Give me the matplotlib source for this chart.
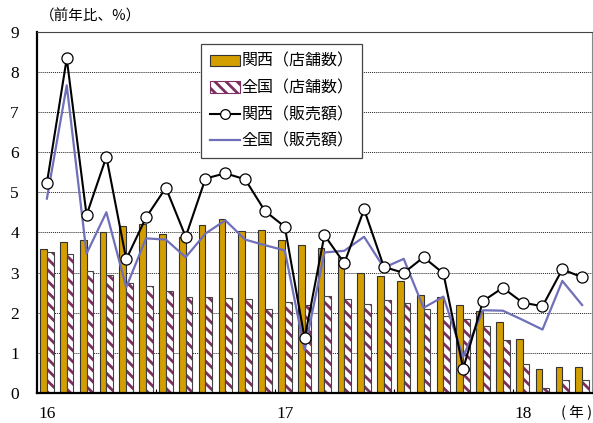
import matplotlib

matplotlib.use("Agg")
import matplotlib.pyplot as plt
import numpy as np
from matplotlib.lines import Line2D
from matplotlib.patches import Patch

plt.rcParams["font.family"] = ["Liberation Serif", "Noto Sans CJK JP"]
plt.rcParams["hatch.linewidth"] = 2.0

# monthly, 2016-01 .. 2018-04 (前年比, %)
kansai_store = [3.58, 3.76, 3.82, 4.01, 4.15, 4.20, 3.95, 3.89, 4.19, 4.32, 4.04, 4.07,
                3.81, 3.68, 3.62, 3.39, 3.00, 2.91, 2.79, 2.44, 2.38, 2.18, 2.05, 1.77,
                1.35, 0.60, 0.65, 0.65]
national_store = [3.50, 3.47, 3.04, 2.94, 2.75, 2.67, 2.55, 2.39, 2.39, 2.37, 2.35, 2.08,
                  2.26, 2.20, 2.41, 2.35, 2.22, 2.31, 2.25, 2.09, 1.92, 1.85, 1.68, 1.33,
                  0.71, 0.13, 0.33, 0.33]
kansai_sales = [5.23, 8.33, 4.43, 5.88, 3.33, 4.37, 5.11, 3.89, 5.34, 5.47, 5.32, 4.53,
                4.14, 1.36, 3.93, 3.23, 4.57, 3.14, 2.99, 3.38, 2.98, 0.61, 2.29, 2.62,
                2.25, 2.16, 3.08, 2.88]
national_sales = [4.84, 7.66, 3.47, 4.50, 2.63, 3.85, 3.82, 3.38, 3.97, 4.30, 3.82, 3.68,
                  3.55, 1.07, 3.50, 3.54, 3.89, 3.12, 3.34, 2.12, 2.40, 0.90, 2.06, 2.05,
                  1.82, 1.58, 2.79, 2.19]
year_ticks = [0, 12, 24]
year_labels = ["16", "17", "18"]

labels = ["関西（店舗数）", "全国（店舗数）", "関西（販売額）", "全国（販売額）"]

GOLD = "#D39E00"
PLUM = "#7B2F60"
BLUE = "#6F6FBA"
JP = ["Noto Sans CJK JP", "DejaVu Sans"]
HATCH = "\\\\\\"

x = np.arange(len(kansai_store))
w = 0.34

fig = plt.figure(figsize=(5.93, 4.23), dpi=100)
ax = fig.add_axes([0.0624, 0.0709, 0.936, 0.8546])

ax.bar(x - w / 2, kansai_store, width=w, color=GOLD, edgecolor="#333333",
       linewidth=0.8, zorder=2)
ax.bar(x + w / 2, national_store, width=w, color="white", edgecolor=PLUM,
       hatch=HATCH, linewidth=0, zorder=2)
ax.bar(x + w / 2, national_store, width=w, fill=False, edgecolor="#444444",
       linewidth=0.8, zorder=2.1)

ax.plot(x, national_sales, color=BLUE, linewidth=1.6, zorder=3)
ax.plot(x, kansai_sales, color="black", linewidth=1.5, marker="o", markersize=8,
        markerfacecolor="white", markeredgecolor="black", markeredgewidth=0.9, zorder=4)

ax.set_xlim(-0.5, len(x) - 0.5)
ax.set_ylim(0, 9)
ax.set_yticks(range(10))
ax.yaxis.grid(True, color="#222222", linestyle=(0, (1, 1)), linewidth=0.7, zorder=0)
ax.set_axisbelow(True)
ax.tick_params(axis="y", length=0, pad=13, labelsize=12.5)
ax.set_xticks(year_ticks)
ax.set_xticklabels(year_labels)
ax.tick_params(axis="x", length=0, pad=9, labelsize=12.5)
ax.set_xticks([5.5, 11.5, 17.5, 23.5], minor=True)
ax.tick_params(axis="x", which="minor", direction="in", length=3, width=0.8)

for s in ["left", "bottom"]:
    ax.spines[s].set_linewidth(1.6)
ax.spines["top"].set_color("#444444")
ax.spines["right"].set_color("#888888")
ax.spines["top"].set_linewidth(0.8)
ax.spines["right"].set_linewidth(0.8)

fig.text(0.973, 0.024, "( 年 )", family=JP, fontsize=10.5, ha="center", va="center")
fig.text(0.068, 0.962, "（前年比、%）", family=JP, fontsize=10.5, ha="left", va="center")

handles = [
    Patch(facecolor=GOLD, edgecolor="#333333", linewidth=0.8),
    Patch(facecolor="white", edgecolor=PLUM, hatch=HATCH, linewidth=0.8),
    Line2D([], [], color="black", linewidth=1.5, marker="o", markersize=7,
           markerfacecolor="white", markeredgewidth=0.9),
    Line2D([], [], color=BLUE, linewidth=1.6),
]
leg = ax.legend(handles, labels, loc="upper left", bbox_to_anchor=(0.295, 0.965),
                prop={"family": JP, "size": 11.5}, frameon=True, fancybox=False,
                edgecolor="#444444", framealpha=1, handlelength=1.9, handletextpad=0.1,
                labelspacing=0.6, borderpad=0.55, borderaxespad=0)
leg.get_frame().set_linewidth(0.9)
leg.set_zorder(5)

fig.savefig("out.png", dpi=100)
